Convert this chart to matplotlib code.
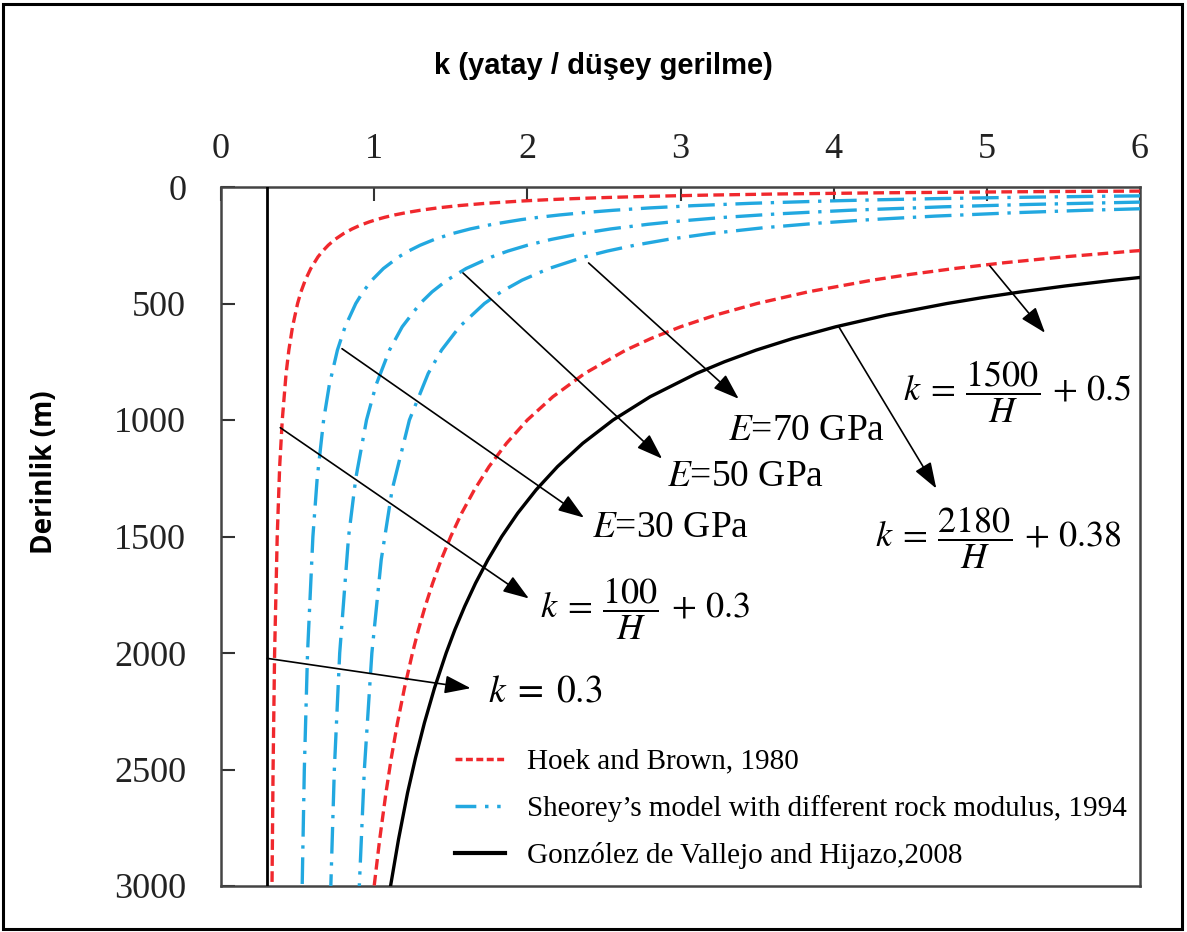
import matplotlib
matplotlib.use("Agg")
import matplotlib.pyplot as plt
from matplotlib.patches import Rectangle
from matplotlib.lines import Line2D

# ---------------- data ----------------
x_ticks = [0, 1, 2, 3, 4, 5, 6]
y_ticks = [0, 500, 1000, 1500, 2000, 2500, 3000]

# Hoek and Brown lower bound (k = 100/H + 0.3)
hb_low_H = [15, 17.5, 20, 25, 30, 35, 40, 45, 50, 55, 60, 70, 80, 90, 100, 110, 120, 130, 140,
            150, 165, 180, 200, 225, 250, 275, 300, 350, 400, 450, 500, 600, 700, 800, 1000,
            1200, 1500, 2000, 2500, 3000]
hb_low_k = [6.967, 6.014, 5.30, 4.30, 3.633, 3.157, 2.80, 2.522, 2.30, 2.118, 1.967, 1.729,
            1.55, 1.411, 1.30, 1.209, 1.133, 1.069, 1.014, 0.967, 0.906, 0.856, 0.80, 0.744,
            0.70, 0.664, 0.633, 0.586, 0.55, 0.522, 0.50, 0.467, 0.443, 0.425, 0.40, 0.383,
            0.367, 0.35, 0.34, 0.333]

# Hoek and Brown upper bound (k = 1500/H + 0.5)
hb_up_H = [250, 275, 300, 325, 350, 375, 400, 450, 500, 550, 600, 650, 700, 800, 900, 1000,
           1100, 1200, 1300, 1400, 1500, 1600, 1700, 1800, 1900, 2000, 2150, 2300, 2450, 2600,
           2800, 3000]
hb_up_k = [6.50, 5.955, 5.50, 5.115, 4.786, 4.50, 4.25, 3.833, 3.50, 3.227, 3.00, 2.808, 2.643,
           2.375, 2.167, 2.00, 1.864, 1.75, 1.654, 1.571, 1.50, 1.4375, 1.382, 1.333, 1.289,
           1.25, 1.198, 1.152, 1.112, 1.077, 1.036, 1.00]

# González de Vallejo and Hijazo (k = 2180/H + 0.38)
gv_H = [350, 375, 400, 425, 450, 475, 500, 550, 600, 650, 700, 750, 800, 900, 1000, 1100,
        1200, 1300, 1400, 1500, 1600, 1700, 1800, 1900, 2000, 2150, 2300, 2450, 2600, 2800,
        3000]
gv_k = [6.609, 6.193, 5.83, 5.509, 5.224, 4.969, 4.74, 4.344, 4.013, 3.734, 3.494, 3.287, 3.105,
        2.802, 2.56, 2.362, 2.197, 2.057, 1.937, 1.833, 1.7425, 1.662, 1.591, 1.527, 1.47,
        1.394, 1.328, 1.27, 1.218, 1.159, 1.107]

# Sheorey, E = 30 GPa
sh30_H = [30, 35, 40, 45, 50, 55, 60, 70, 80, 90, 100, 110, 120, 130, 140, 160, 180, 200, 225,
          250, 275, 300, 350, 400, 450, 500, 600, 700, 850, 1000, 1250, 1500, 2000, 2500, 3000]
sh30_k = [7.46, 6.46, 5.71, 5.127, 4.66, 4.278, 3.96, 3.46, 3.085, 2.793, 2.56, 2.369, 2.21,
          2.075, 1.96, 1.773, 1.627, 1.51, 1.393, 1.30, 1.224, 1.16, 1.06, 0.985, 0.927, 0.88,
          0.81, 0.76, 0.707, 0.67, 0.628, 0.60, 0.565, 0.544, 0.53]

# Sheorey, E = 50 GPa
sh50_H = [55, 60, 65, 75, 85, 100, 115, 130, 145, 160, 180, 200, 225, 250, 275, 300, 350, 400,
          450, 500, 600, 700, 850, 1000, 1250, 1500, 2000, 2500, 3000]
sh50_k = [6.964, 6.433, 5.985, 5.267, 4.718, 4.10, 3.643, 3.292, 3.014, 2.788, 2.544, 2.35,
          2.156, 2.00, 1.873, 1.767, 1.60, 1.475, 1.378, 1.30, 1.183, 1.10, 1.012, 0.95, 0.88,
          0.833, 0.775, 0.74, 0.717]

# Sheorey, E = 70 GPa
sh70_H = [80, 90, 100, 110, 125, 140, 155, 175, 200, 225, 250, 275, 300, 350, 400, 450, 500,
          600, 700, 800, 1000, 1300, 1600, 2000, 2500, 3000]
sh70_k = [6.865, 6.184, 5.64, 5.195, 4.66, 4.24, 3.901, 3.54, 3.19, 2.918, 2.70, 2.522, 2.373,
          2.14, 1.965, 1.829, 1.72, 1.557, 1.44, 1.353, 1.23, 1.117, 1.046, 0.985, 0.936, 0.903]

# constant k = 0.3
const_k = [0.3, 0.3]
const_H = [0, 3000]

legend_labels = ["Hoek and Brown, 1980",
                 "Sheorey\u2019s model with different rock modulus, 1994",
                 "Gonz\u00f3lez de Vallejo and Hijazo,2008"]

title_text = "k (yatay / d\u00fc\u015fey gerilme)"
ylabel_text = "Derinlik (m)"

# ---------------- styling ----------------
RED = "#f0282d"
BLUE = "#22a8e0"
plt.rcParams["mathtext.fontset"] = "stix"
SERIF = ["Liberation Serif", "DejaVu Serif"]

fig = plt.figure(figsize=(11.87, 9.32), dpi=100)
ax = fig.add_axes([221 / 1187, 1 - 886 / 932, (1140 - 221) / 1187, (886 - 187) / 932])

red_ls = (0, (3.2, 1.6))
blue_ls = (0, (8.0, 2.6, 1.0, 2.6))

ax.plot(hb_low_k, hb_low_H, color=RED, lw=2.4, ls=red_ls, zorder=3)
ax.plot(hb_up_k, hb_up_H, color=RED, lw=2.4, ls=red_ls, zorder=3)
for kk, hh in [(sh30_k, sh30_H), (sh50_k, sh50_H), (sh70_k, sh70_H)]:
    ax.plot(kk, hh, color=BLUE, lw=2.4, ls=blue_ls, zorder=3)
ax.plot(gv_k, gv_H, color="black", lw=2.4, zorder=3)
ax.plot(const_k, const_H, color="black", lw=2.0, zorder=3)

ax.set_xlim(0, 6)
ax.set_ylim(3000, 0)
ax.xaxis.tick_top()
ax.set_xticks(x_ticks)
ax.set_yticks(y_ticks)
ax.tick_params(direction="in", length=10, width=1.5, color="#333333",
               labelsize=26, top=True, bottom=False, left=True, right=False)
ax.tick_params(axis="y", pad=25)
ax.tick_params(axis="x", pad=15)
for lab in ax.get_xticklabels() + ax.get_yticklabels():
    lab.set_family(SERIF)
    lab.set_color("#222222")
for sp in ax.spines.values():
    sp.set_linewidth(1.8)
    sp.set_color("#444444")

# legend
handles = [Line2D([], [], color=RED, lw=2.5, ls=(0, (2.0, 1.0))),
           Line2D([], [], color=BLUE, lw=2.5, ls=(0, (6.0, 2.5, 1.0, 2.5, 1.0, 2.5))),
           Line2D([], [], color="black", lw=3.0)]
leg = ax.legend(handles, legend_labels, loc="upper left", bbox_to_anchor=(0.255, 0.197),
                frameon=False, prop={"family": SERIF, "size": 21}, handlelength=1.7,
                handletextpad=0.75, labelspacing=0.69, borderpad=0, borderaxespad=0)

# annotations: (text, arrow start on curve, arrow head, text anchor)
arrow_kw = dict(arrowstyle="-|>,head_length=1.0,head_width=0.35", color="black", lw=1.2,
                shrinkA=0, shrinkB=0, mutation_scale=16)
annotations = [
    (r"$k\;=\;0.3$", (0.302, 2023), (1.63, 2151), (1.74, 2170), 27),
    (r"$k\:=\:\dfrac{100}{H}\,+\,0.3$", (0.387, 1033), (2.01, 1766), (2.08, 1810), 26),
    (r"$E$=30 GPa", (0.79, 694), (2.37, 1419), (2.42, 1461), 27),
    (r"$E$=50 GPa", (1.58, 369), (2.88, 1166), (2.91, 1243), 27),
    (r"$E$=70 GPa", (2.40, 326), (3.38, 909), (3.31, 1046), 27),
    (r"$k\:=\:\dfrac{1500}{H}\,+\,0.5$", (5.02, 339), (5.38, 626), (4.45, 880), 26),
    (r"$k\:=\:\dfrac{2180}{H}\,+\,0.38$", (4.03, 596), (4.67, 1294), (4.27, 1505), 26),
]
for txt, start, head, tpos, fs in annotations:
    ax.annotate("", xy=head, xytext=start, arrowprops=arrow_kw, zorder=4)
    ax.text(tpos[0], tpos[1], txt, fontsize=fs, ha="left", va="center",
            family=SERIF, zorder=5)

# titles
fig.text(603 / 1187, 1 - 66 / 932, title_text, ha="center", va="center", fontsize=21,
         fontweight="bold", family=["Liberation Sans", "DejaVu Sans"])
fig.text(45 / 1187, 1 - 472 / 932, ylabel_text, ha="center", va="center", fontsize=20,
         fontweight="bold", rotation=90, family=["Open Sans", "DejaVu Sans"])

# figure border
fig.patches.append(Rectangle((3 / 1187, 3 / 932), 1 - 8 / 1187, 1 - 7 / 932,
                             transform=fig.transFigure, fill=False, lw=2.2,
                             edgecolor="black"))

fig.savefig("out.png", dpi=100)
